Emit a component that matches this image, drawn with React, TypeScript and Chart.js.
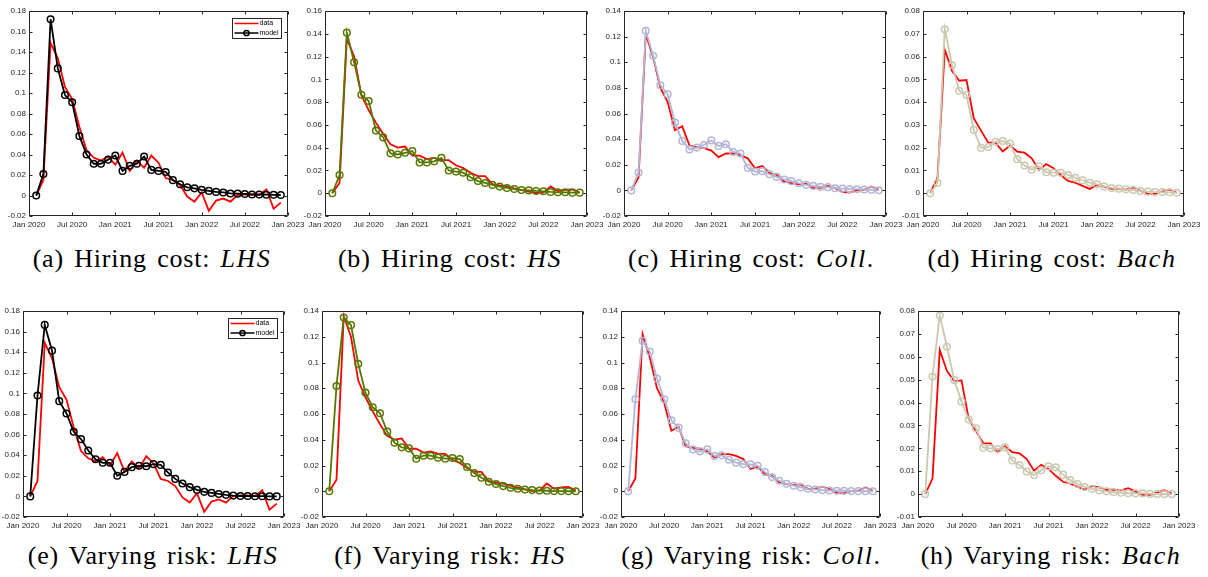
import React, { useEffect, useRef } from 'react';
import { Chart, registerables } from 'chart.js';

Chart.register(...registerables);

// ---------- DATA ----------
const DATES = [
  '2020-02', '2020-03', '2020-04', '2020-05', '2020-06', '2020-07', '2020-08', '2020-09', '2020-10', '2020-11', '2020-12',
  '2021-01', '2021-02', '2021-03', '2021-04', '2021-05', '2021-06', '2021-07', '2021-08', '2021-09', '2021-10', '2021-11', '2021-12',
  '2022-01', '2022-02', '2022-03', '2022-04', '2022-05', '2022-06', '2022-07', '2022-08', '2022-09', '2022-10', '2022-11', '2022-12',
];

const X_TICK_LABELS = ['Jan 2020', 'Jul 2020', 'Jan 2021', 'Jul 2021', 'Jan 2022', 'Jul 2022', 'Jan 2023'];

const dataLHS = [0, 0.015, 0.149, 0.134, 0.106, 0.094, 0.067, 0.044, 0.037, 0.034, 0.038, 0.030, 0.042, 0.024, 0.034, 0.027, 0.039, 0.032, 0.017, 0.015, 0.010, -0.001, -0.006, 0.003, -0.015, -0.005, -0.003, -0.006, 0.0005, 0.001, 0.001, 0.0005, 0.006, -0.013, -0.007];
const dataHS = [0, 0.009, 0.136, 0.12, 0.086, 0.073, 0.062, 0.052, 0.043, 0.040, 0.041, 0.033, 0.033, 0.030, 0.031, 0.029, 0.029, 0.0245, 0.022, 0.018, 0.015, 0.015, 0.008, 0.0068, 0.006, 0.0043, 0.0028, 0.0014, 0.0002, 0.0005, 0.006, 0.002, 0.003, 0.0034, 0.0005];
const dataColl = [0, 0.010, 0.122, 0.104, 0.080, 0.069, 0.047, 0.050, 0.035, 0.0337, 0.033, 0.031, 0.026, 0.0288, 0.0288, 0.0275, 0.025, 0.0173, 0.019, 0.0134, 0.012, 0.0069, 0.0056, 0.0048, 0.0053, 0.0017, 0.002, 0.0035, 0.0017, -0.0012, -0.0017, 0.0001, 0.0004, 0.003, 0.0004];
const dataBach = [0, 0.0068, 0.063, 0.0537, 0.0494, 0.0497, 0.0329, 0.0275, 0.0222, 0.0222, 0.0183, 0.0209, 0.0183, 0.0178, 0.0153, 0.0102, 0.0128, 0.011, 0.008, 0.0054, 0.0046, 0.0032, 0.0019, 0.0036, 0.0029, 0.0019, 0.002, 0.0016, 0.0026, 0.0011, -0.0003, -0.0003, 0.0007, 0.0017, 0.0002];

const modelHiringLHS = [0, 0.021, 0.172, 0.124, 0.098, 0.091, 0.058, 0.040, 0.031, 0.031, 0.035, 0.039, 0.024, 0.029, 0.031, 0.038, 0.025, 0.024, 0.023, 0.015, 0.011, 0.008, 0.007, 0.0055, 0.0045, 0.0035, 0.003, 0.002, 0.0018, 0.0015, 0.001, 0.001, 0.0008, 0.0007, 0.0005];
const modelHiringHS = [0, 0.016, 0.141, 0.115, 0.0865, 0.081, 0.055, 0.049, 0.035, 0.034, 0.0355, 0.037, 0.027, 0.027, 0.028, 0.031, 0.020, 0.019, 0.018, 0.014, 0.0107, 0.009, 0.0073, 0.0058, 0.0046, 0.0037, 0.0028, 0.0025, 0.002, 0.0017, 0.0011, 0.0008, 0.0008, 0.0005, 0.0005];
const modelHiringColl = [0, 0.014, 0.1245, 0.105, 0.082, 0.075, 0.053, 0.0386, 0.032, 0.0334, 0.0355, 0.039, 0.0347, 0.036, 0.030, 0.0287, 0.0176, 0.0147, 0.015, 0.0126, 0.0105, 0.0085, 0.0072, 0.0056, 0.0043, 0.0035, 0.0027, 0.0025, 0.0017, 0.0014, 0.0009, 0.0009, 0.0007, 0.0004, 0.0001];
const modelHiringBach = [0, 0.0045, 0.072, 0.0563, 0.045, 0.0431, 0.0278, 0.0199, 0.0203, 0.0226, 0.0229, 0.0218, 0.0149, 0.0122, 0.0103, 0.0118, 0.0092, 0.009, 0.009, 0.008, 0.0068, 0.0057, 0.0046, 0.0039, 0.003, 0.0023, 0.002, 0.0017, 0.0014, 0.001, 0.0007, 0.0005, 0.0005, 0.0004, 0.0002];

const modelRiskLHS = [0, 0.098, 0.1665, 0.1415, 0.0925, 0.0805, 0.0627, 0.0556, 0.0446, 0.0361, 0.0326, 0.0326, 0.020, 0.0238, 0.0284, 0.0297, 0.0293, 0.0313, 0.0306, 0.0232, 0.017, 0.0125, 0.009, 0.0063, 0.0044, 0.0034, 0.0024, 0.0015, 0.0008, 0.0004, 0.0004, 0.0002, 0.0002, 0, 0];
const modelRiskHS = [0, 0.0818, 0.135, 0.129, 0.099, 0.0766, 0.0652, 0.0606, 0.0463, 0.0377, 0.0341, 0.0333, 0.0253, 0.0276, 0.0276, 0.0261, 0.0253, 0.0258, 0.025, 0.0188, 0.0141, 0.0105, 0.0074, 0.0056, 0.004, 0.0027, 0.0019, 0.0014, 0.0009, 0.0006, 0.0004, 0.0001, 0.0001, 0, 0];
const modelRiskColl = [0, 0.0714, 0.1168, 0.1085, 0.0875, 0.0714, 0.0551, 0.0494, 0.0372, 0.0325, 0.031, 0.0325, 0.0274, 0.0279, 0.0245, 0.0222, 0.0211, 0.0209, 0.0198, 0.0149, 0.011, 0.0082, 0.0058, 0.0043, 0.003, 0.0019, 0.0014, 0.0009, 0.0006, 0.0004, 0.0004, 0.0001, 0.0001, 0, 0];
const modelRiskBach = [0, 0.0514, 0.078, 0.0644, 0.0498, 0.0404, 0.0326, 0.0288, 0.0203, 0.02, 0.0197, 0.0204, 0.0147, 0.0127, 0.0099, 0.0083, 0.0104, 0.0121, 0.0117, 0.0085, 0.0061, 0.0044, 0.0031, 0.0023, 0.0016, 0.0012, 0.0009, 0.0006, 0.0004, 0.0003, 0.0003, 0.0001, 0.0001, 0, 0];

const CAPTION_PREFIX = ['(a) Hiring cost: ', '(b) Hiring cost: ', '(c) Hiring cost: ', '(d) Hiring cost: ',
  '(e) Varying risk: ', '(f) Varying risk: ', '(g) Varying risk: ', '(h) Varying risk: '];
const CAPTION_MATH = ['LHS', 'HS', 'Coll', 'Bach', 'LHS', 'HS', 'Coll', 'Bach'];
const CAPTION_SUFFIX = ['', '', '.', '', '', '', '.', ''];

const LEGEND_LABELS = ['data', 'model'];

// ---------- STYLE / LAYOUT ----------
const RED = '#ff0000';
const AXIS_COLOR = '#262626';
const COLOR_LHS = '#000000';
const COLOR_HS = '#567800';
const COLOR_COLL = '#b3b6d4';
const COLOR_BACH = '#cbc7b0';

type PanelDef = {
  data: number[];
  model: number[];
  color: string;
  yMin: number;
  yMax: number;
  yStep: number;
  legend: boolean;
  box: [number, number, number, number];
  capX: number;
  capY: number;
};

const PANELS: PanelDef[] = [
  { data: dataLHS, model: modelHiringLHS, color: COLOR_LHS, yMin: -0.02, yMax: 0.18, yStep: 0.02, legend: true, box: [29, 11, 288, 216], capX: 152, capY: 259 },
  { data: dataHS, model: modelHiringHS, color: COLOR_HS, yMin: -0.02, yMax: 0.16, yStep: 0.02, legend: false, box: [325, 11, 587, 216], capX: 450, capY: 259 },
  { data: dataColl, model: modelHiringColl, color: COLOR_COLL, yMin: -0.02, yMax: 0.14, yStep: 0.02, legend: false, box: [624, 11, 886, 216], capX: 751, capY: 259 },
  { data: dataBach, model: modelHiringBach, color: COLOR_BACH, yMin: -0.01, yMax: 0.08, yStep: 0.01, legend: false, box: [923, 11, 1184, 216], capX: 1052, capY: 259 },
  { data: dataLHS, model: modelRiskLHS, color: COLOR_LHS, yMin: -0.02, yMax: 0.18, yStep: 0.02, legend: true, box: [23, 311, 284, 517], capX: 153, capY: 556 },
  { data: dataHS, model: modelRiskHS, color: COLOR_HS, yMin: -0.02, yMax: 0.14, yStep: 0.02, legend: false, box: [322, 311, 583, 517], capX: 450, capY: 556 },
  { data: dataColl, model: modelRiskColl, color: COLOR_COLL, yMin: -0.02, yMax: 0.14, yStep: 0.02, legend: false, box: [621, 311, 880, 517], capX: 751, capY: 556 },
  { data: dataBach, model: modelRiskBach, color: COLOR_BACH, yMin: -0.01, yMax: 0.08, yStep: 0.01, legend: false, box: [918, 311, 1179, 517], capX: 1051, capY: 556 },
];

const PAD_LEFT = 40;
const PAD_TOP = 8;
const PAD_RIGHT = 24;
const PAD_BOTTOM = 24;

function monthIndex(s: string): number {
  const [y, m] = s.split('-').map(Number);
  return (y - 2020) * 12 + (m - 1);
}

function toPoints(values: number[]) {
  return values.map((v, i) => ({ x: monthIndex(DATES[i]), y: v }));
}

function fmt(v: number): string {
  const n = Math.round(v * 10000) / 10000;
  return String(n);
}

const framePlugin = {
  id: 'matlabFrame',
  afterDatasetsDraw(chart: any) {
    const { ctx, chartArea, scales } = chart;
    const { left, right, top, bottom } = chartArea;
    const L = Math.round(left) + 0.5;
    const R = Math.round(right) - 0.5;
    const T = Math.round(top) + 0.5;
    const B = Math.round(bottom) - 0.5;
    ctx.save();
    ctx.strokeStyle = AXIS_COLOR;
    ctx.lineWidth = 1;
    ctx.beginPath();
    ctx.rect(L, T, R - L, B - T);
    ctx.stroke();
    const tl = 3;
    ctx.beginPath();
    scales.x.ticks.forEach((t: any) => {
      const px = Math.round(scales.x.getPixelForValue(t.value)) + 0.5;
      ctx.moveTo(px, B);
      ctx.lineTo(px, B - tl);
      ctx.moveTo(px, T);
      ctx.lineTo(px, T + tl);
    });
    scales.y.ticks.forEach((t: any) => {
      const py = Math.round(scales.y.getPixelForValue(t.value)) + 0.5;
      ctx.moveTo(L, py);
      ctx.lineTo(L + tl, py);
      ctx.moveTo(R, py);
      ctx.lineTo(R - tl, py);
    });
    ctx.stroke();
    ctx.restore();
  },
};

function makeLegendPlugin(show: boolean, modelColor: string) {
  return {
    id: 'miniLegend',
    afterDraw(chart: any) {
      if (!show) return;
      const { ctx, chartArea } = chart;
      const w = 49;
      const h = 20;
      const x0 = Math.round(chartArea.right) - 7 - w + 0.5;
      const y0 = Math.round(chartArea.top) + 7 + 0.5;
      ctx.save();
      ctx.fillStyle = '#ffffff';
      ctx.fillRect(x0, y0, w, h);
      ctx.strokeStyle = AXIS_COLOR;
      ctx.lineWidth = 1;
      ctx.strokeRect(x0, y0, w, h);
      // data entry
      ctx.strokeStyle = RED;
      ctx.lineWidth = 1.5;
      ctx.beginPath();
      ctx.moveTo(x0 + 2, y0 + 5);
      ctx.lineTo(x0 + 26, y0 + 5);
      ctx.stroke();
      // model entry
      ctx.strokeStyle = modelColor;
      ctx.beginPath();
      ctx.moveTo(x0 + 2, y0 + 14.5);
      ctx.lineTo(x0 + 26, y0 + 14.5);
      ctx.stroke();
      ctx.beginPath();
      ctx.arc(x0 + 14, y0 + 14.5, 2.6, 0, Math.PI * 2);
      ctx.stroke();
      ctx.fillStyle = '#000000';
      ctx.font = '7px "Liberation Sans", Arial, sans-serif';
      ctx.textBaseline = 'middle';
      ctx.textAlign = 'left';
      ctx.fillText(LEGEND_LABELS[0], x0 + 27, y0 + 5);
      ctx.fillText(LEGEND_LABELS[1], x0 + 27, y0 + 14.5);
      ctx.restore();
    },
  };
}

function PanelChart({ panel }: { panel: PanelDef }) {
  const ref = useRef<HTMLCanvasElement>(null);
  const [L, T, R, B] = panel.box;
  const width = R - L + PAD_LEFT + PAD_RIGHT;
  const height = B - T + PAD_TOP + PAD_BOTTOM;

  useEffect(() => {
    const canvas = ref.current;
    if (!canvas) return;
    const chart = new Chart(canvas, {
      type: 'line',
      data: {
        datasets: [
          {
            label: 'model',
            data: toPoints(panel.model),
            borderColor: panel.color,
            borderWidth: 1.8,
            pointStyle: 'circle',
            pointRadius: 3.3,
            pointBorderWidth: 1.5,
            pointBorderColor: panel.color,
            pointBackgroundColor: 'rgba(0,0,0,0)',
            tension: 0,
            order: 0,
          },
          {
            label: 'data',
            data: toPoints(panel.data),
            borderColor: RED,
            borderWidth: 1.8,
            pointRadius: 0,
            tension: 0,
            order: 1,
          },
        ],
      },
      options: {
        animation: false,
        responsive: false,
        devicePixelRatio: 1,
        layout: { padding: { left: 0, top: PAD_TOP, right: PAD_RIGHT, bottom: 0 } },
        plugins: {
          legend: { display: false },
          title: { display: false },
          tooltip: { enabled: false },
        },
        events: [],
        scales: {
          x: {
            type: 'linear',
            min: 0,
            max: 36,
            afterFit: (s: any) => { s.height = PAD_BOTTOM; },
            grid: { display: false, drawTicks: false },
            border: { display: false },
            ticks: {
              stepSize: 6,
              autoSkip: false,
              maxRotation: 0,
              minRotation: 0,
              padding: 4,
              color: AXIS_COLOR,
              font: { family: '"Liberation Sans", Arial, sans-serif', size: 8 },
              callback: (v: any) => X_TICK_LABELS[Math.round(Number(v) / 6)] ?? '',
            },
          },
          y: {
            type: 'linear',
            min: panel.yMin,
            max: panel.yMax,
            afterFit: (s: any) => { s.width = PAD_LEFT; },
            grid: { display: false, drawTicks: false },
            border: { display: false },
            ticks: {
              stepSize: panel.yStep,
              autoSkip: false,
              padding: 3,
              color: AXIS_COLOR,
              font: { family: '"Liberation Sans", Arial, sans-serif', size: 8 },
              callback: (v: any) => fmt(Number(v)),
            },
          },
        },
      },
      plugins: [framePlugin, makeLegendPlugin(panel.legend, panel.color)],
    } as any);
    return () => chart.destroy();
  }, [panel]);

  return (
    <canvas
      ref={ref}
      width={width}
      height={height}
      style={{ position: 'absolute', left: L - PAD_LEFT, top: T - PAD_TOP, width, height, display: 'block' }}
    />
  );
}

export default function App() {
  return (
    <div style={{ position: 'absolute', left: 0, top: 0, width: 1208, height: 577, background: '#ffffff', overflow: 'hidden' }}>
      {PANELS.map((p, i) => (
        <PanelChart key={i} panel={p} />
      ))}
      {PANELS.map((p, i) => (
        <div
          key={'cap' + i}
          style={{
            position: 'absolute',
            left: p.capX - 160,
            width: 320,
            top: p.capY - 15,
            height: 30,
            lineHeight: '30px',
            textAlign: 'center',
            whiteSpace: 'nowrap',
            fontFamily: '"Liberation Serif", "Times New Roman", serif',
            fontSize: 26,
            letterSpacing: '0.8px',
            wordSpacing: '3px',
            color: '#000000',
          }}
        >
          {CAPTION_PREFIX[i]}
          <i style={{ letterSpacing: '1.5px' }}>{CAPTION_MATH[i]}</i>
          {CAPTION_SUFFIX[i]}
        </div>
      ))}
    </div>
  );
}
